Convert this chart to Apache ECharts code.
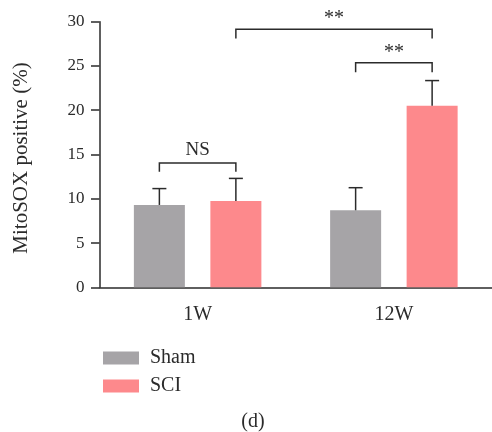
<!DOCTYPE html>
<html>
<head>
<meta charset="utf-8">
<script src="https://cdn.jsdelivr.net/npm/echarts@6/dist/echarts.min.js"></script>
<style>
  html, body { margin: 0; padding: 0; background: #fff; }
  #chart { width: 492px; height: 432px; }
</style>
</head>
<body>
<div id="chart"></div>
<script>
// data
const categories = ["1W", "12W"];
const shamMean = [9.3, 8.7];
const shamUpper = [11.15, 11.25];
const sciMean = [9.75, 20.5];
const sciUpper = [12.3, 23.35];
const yTicks = [0, 5, 10, 15, 20, 25, 30];

// significance brackets: [cat1, side1, cat2, side2, barY, legY, label]
// side -1 = Sham bar, +1 = SCI bar
const bracketData = [
  [0, -1, 0, 1, 14.05, 13.05, "NS"],
  [0, 1, 1, 1, 29.15, 28.1, "**"],
  [1, -1, 1, 1, 25.35, 24.3, "**"],
];

const FONT = "'Liberation Serif', 'DejaVu Serif', serif";
const INK = "#2b2b2b";
const BAR_W = 51;
const BAR_GAP = 25.5;
const SIDE_OFF = (BAR_W + BAR_GAP) / 2;

const chart = echarts.init(document.getElementById("chart"));

const errorSeries = (name, mean, upper, side) => ({
  type: "custom",
  name: name + "-err",
  silent: true,
  z: 3,
  data: categories.map((c, i) => [i, mean[i], upper[i]]),
  renderItem(params, api) {
    const base = api.coord([api.value(0), api.value(1)]);
    const top = api.coord([api.value(0), api.value(2)]);
    const x = base[0] + side * SIDE_OFF;
    const style = { stroke: INK, lineWidth: 1.5 };
    return {
      type: "group",
      children: [
        { type: "line", shape: { x1: x, y1: base[1], x2: x, y2: top[1] }, style },
        { type: "line", shape: { x1: x - 7, y1: top[1], x2: x + 7, y2: top[1] }, style },
      ],
    };
  },
});

const option = {
  animation: false,
  backgroundColor: "#fff",
  grid: { left: 99.5, top: 21.7, width: 397, height: 265.6, containLabel: false },
  legend: {
    orient: "vertical",
    left: 98,
    top: 343,
    itemWidth: 36,
    itemHeight: 13,
    itemGap: 8,
    icon: "rect",
    data: ["Sham", "SCI"],
    textStyle: { fontFamily: FONT, fontSize: 20, color: INK, padding: [0, 0, 0, 6] },
  },
  xAxis: {
    type: "category",
    data: categories,
    axisLine: { lineStyle: { color: INK, width: 1.5 } },
    axisTick: { alignWithLabel: true, length: 7, lineStyle: { color: INK, width: 1.5 } },
    axisLabel: { fontFamily: FONT, fontSize: 20, color: INK, margin: 17 },
  },
  yAxis: {
    type: "value",
    min: yTicks[0],
    max: yTicks[yTicks.length - 1],
    interval: 5,
    axisLine: { show: true, lineStyle: { color: INK, width: 1.5 } },
    axisTick: { show: true, length: 8.5, lineStyle: { color: INK, width: 1.5 } },
    axisLabel: { fontFamily: FONT, fontSize: 17, color: INK, margin: 15 },
    splitLine: { show: false },
  },
  graphic: [
    {
      type: "text",
      x: 21,
      y: 158,
      rotation: Math.PI / 2,
      style: {
        text: "MitoSOX positive (%)",
        fontFamily: FONT,
        fontSize: 21,
        fill: INK,
        align: "center",
        verticalAlign: "middle",
      },
    },
    {
      type: "text",
      x: 253,
      y: 422,
      style: {
        text: "(d)",
        fontFamily: FONT,
        fontSize: 20,
        fill: INK,
        align: "center",
        verticalAlign: "middle",
      },
    },
  ],
  series: [
    {
      name: "Sham",
      type: "bar",
      data: shamMean,
      barWidth: BAR_W,
      barGap: "50%",
      itemStyle: { color: "#a6a4a7" },
    },
    {
      name: "SCI",
      type: "bar",
      data: sciMean,
      barWidth: BAR_W,
      barGap: "50%",
      itemStyle: { color: "#fd898c" },
    },
    errorSeries("Sham", shamMean, shamUpper, -1),
    errorSeries("SCI", sciMean, sciUpper, 1),
    {
      type: "custom",
      name: "brackets",
      silent: true,
      z: 4,
      data: bracketData,
      renderItem(params, api) {
        const a = api.coord([api.value(0), api.value(4)]);
        const b = api.coord([api.value(2), api.value(4)]);
        const leg = api.coord([api.value(0), api.value(5)])[1];
        const x1 = a[0] + api.value(1) * SIDE_OFF;
        const x2 = b[0] + api.value(3) * SIDE_OFF;
        const y = a[1];
        const style = { stroke: INK, lineWidth: 1.5, fill: null };
        const label = bracketData[params.dataIndex][6];
        return {
          type: "group",
          children: [
            {
              type: "polyline",
              shape: { points: [[x1, leg], [x1, y], [x2, y], [x2, leg]] },
              style,
            },
            {
              type: "text",
              x: (x1 + x2) / 2,
              y: y - (label === "NS" ? 3 : 0),
              style: {
                text: label,
                fontFamily: FONT,
                fontSize: label === "NS" ? 19 : 20,
                fill: INK,
                align: "center",
                verticalAlign: "bottom",
              },
            },
          ],
        };
      },
    },
  ],
};

chart.setOption(option);
</script>
</body>
</html>
